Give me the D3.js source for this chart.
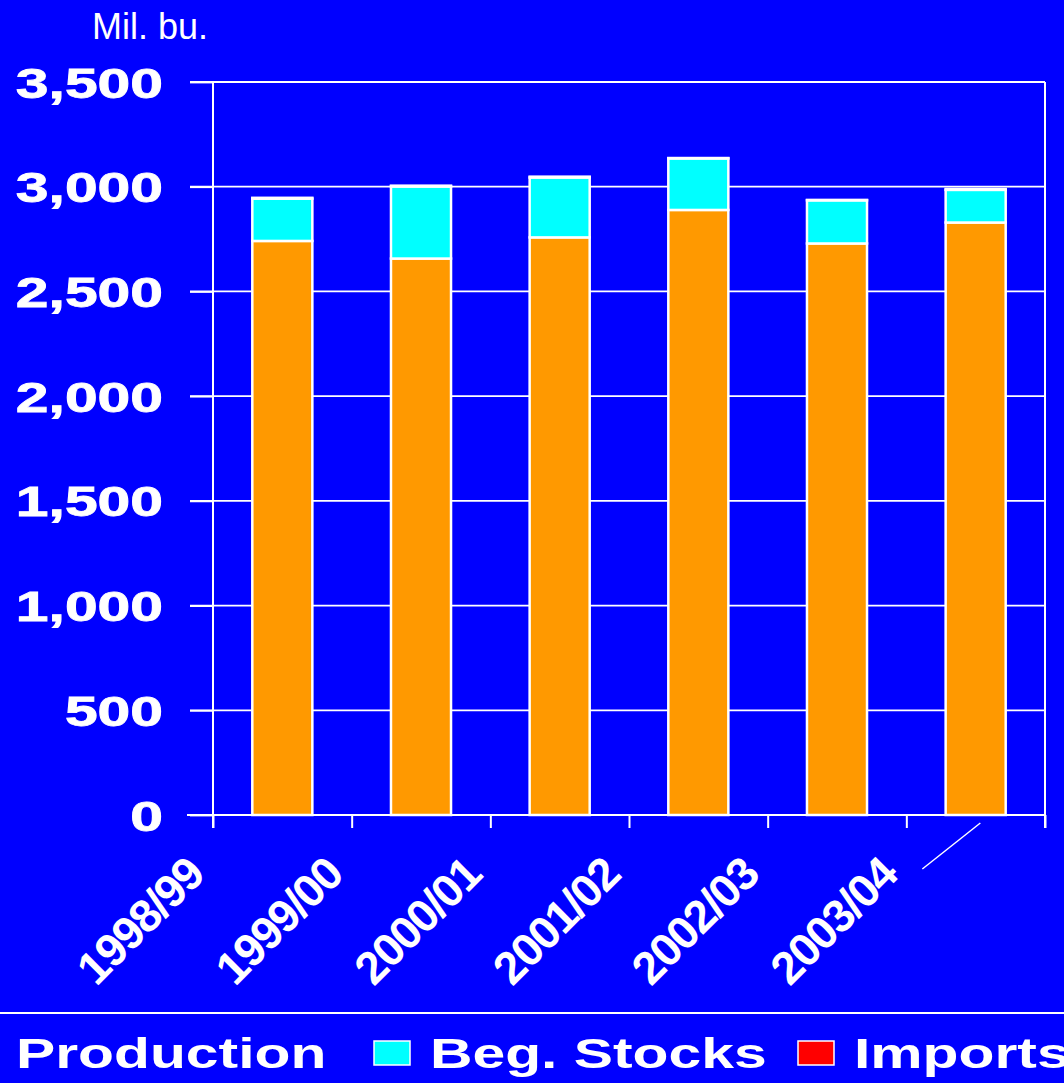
<!DOCTYPE html>
<html>
<head>
<meta charset="utf-8">
<script src="https://cdn.jsdelivr.net/npm/d3@7"></script>
<style>
  html, body { margin: 0; padding: 0; background: #0000ff; }
  svg { display: block; }
  text { fill: #fff; font-family: "Liberation Sans", Arial, sans-serif; }
</style>
</head>
<body>
<div id="chart"></div>
<script>
var categories = ["1998/99", "1999/00", "2000/01", "2001/02", "2002/03", "2003/04"];
var production = [2741, 2657, 2758, 2889, 2729, 2829];
var begStocks = [202, 344, 286, 246, 206, 156];
var imports = [4, 4, 4, 2, 2, 4];
var seriesNames = ["Production", "Beg. Stocks", "Imports"];
var seriesColors = ["#ff9900", "#00ffff", "#ff0000"];
var yTicks = [0, 500, 1000, 1500, 2000, 2500, 3000, 3500];

var W = 1064, H = 1083;
var plotLeft = 213, plotRight = 1045, plotTop = 82, plotBottom = 815;
var stretch = 1.4;

var rows = categories.map(function(c, i) {
  return {cat: c, "Production": production[i], "Beg. Stocks": begStocks[i], "Imports": imports[i]};
});

var svg = d3.select("#chart").append("svg")
  .attr("width", W)
  .attr("height", H);

svg.append("rect").attr("width", W).attr("height", H).attr("fill", "#0000ff");

var y = d3.scaleLinear().domain([0, 3500]).range([plotBottom, plotTop]);

// bars sit in bands, ticks at band boundaries
var x = d3.scaleBand().domain(categories).range([plotLeft, plotRight])
  .paddingInner(0.567).paddingOuter(0.2835);
var xEdge = d3.scaleLinear().domain([0, categories.length]).range([plotLeft, plotRight]);

// stretch wide bold text like the original
function widen(sel, k) {
  sel.each(function() {
    var len = this.getComputedTextLength();
    d3.select(this).attr("textLength", len * k).attr("lengthAdjust", "spacingAndGlyphs");
  });
}

// gridlines
svg.append("g")
  .selectAll("line")
  .data(yTicks)
  .join("line")
  .attr("x1", plotLeft - 23)
  .attr("x2", plotRight)
  .attr("y1", function(d) { return y(d); })
  .attr("y2", function(d) { return y(d); })
  .attr("stroke", "#fff")
  .attr("stroke-width", 1.8);

// y axis
var yAxis = svg.append("g")
  .attr("transform", "translate(" + plotLeft + ",0)")
  .call(d3.axisLeft(y).tickValues(yTicks).tickSize(23).tickPadding(27).tickFormat(d3.format(",")));
yAxis.select(".domain").remove();
yAxis.selectAll("line").attr("stroke", "#fff").attr("stroke-width", 1.8);
yAxis.selectAll("text")
  .attr("font-size", 42)
  .attr("font-weight", "bold")
  .attr("font-family", "Liberation Sans, Arial, sans-serif")
  .attr("fill", "#fff")
  .attr("stroke", "#fff")
  .attr("stroke-width", 0.8)
  .attr("dy", "0.36em")
  .call(widen, stretch);

// stacked bars
var stack = d3.stack().keys(seriesNames)(rows);
svg.append("g")
  .selectAll("g")
  .data(stack)
  .join("g")
  .attr("fill", function(d, i) { return seriesColors[i]; })
  .selectAll("rect")
  .data(function(d) { return d; })
  .join("rect")
  .attr("x", function(d) { return x(d.data.cat); })
  .attr("width", x.bandwidth())
  .attr("y", function(d) { return y(d[1]); })
  .attr("height", function(d) { return y(d[0]) - y(d[1]); })
  .attr("stroke", "#fff")
  .attr("stroke-width", 2.5);

// frame lines: left axis, right edge
svg.append("line")
  .attr("x1", plotLeft).attr("x2", plotLeft).attr("y1", plotTop).attr("y2", plotBottom + 13)
  .attr("stroke", "#fff").attr("stroke-width", 2);
svg.append("line")
  .attr("x1", plotRight).attr("x2", plotRight).attr("y1", plotTop).attr("y2", plotBottom + 13)
  .attr("stroke", "#fff").attr("stroke-width", 2);

// x axis with ticks on category edges
var xAxis = svg.append("g")
  .attr("transform", "translate(0," + plotBottom + ")")
  .call(d3.axisBottom(xEdge).tickValues(d3.range(categories.length + 1)).tickSize(13)
    .tickFormat(function(i) { return i < categories.length ? categories[i] : ""; }));
xAxis.select(".domain").attr("d", "M" + (plotLeft - 26) + ",0H" + plotRight).attr("stroke", "#fff").attr("stroke-width", 2);
xAxis.selectAll("line").attr("stroke", "#fff").attr("stroke-width", 2);
xAxis.selectAll("text")
  .attr("font-size", 46)
  .attr("font-weight", "bold")
  .attr("font-family", "Liberation Sans, Arial, sans-serif")
  .attr("fill", "#fff")
  .attr("text-anchor", "end")
  .attr("y", 0)
  .attr("dy", 0)
  .attr("letter-spacing", -1.5)
  .attr("transform", "translate(-7,62) rotate(-45)");

// stray slash next to the last label
var lastEdge = xEdge(categories.length - 1);
svg.append("line")
  .attr("x1", lastEdge + 16).attr("y1", plotBottom + 54)
  .attr("x2", lastEdge + 74).attr("y2", plotBottom + 8)
  .attr("stroke", "#fff").attr("stroke-width", 1.5);

// unit label
svg.append("text")
  .attr("x", 92)
  .attr("y", 39)
  .attr("font-size", 36)
  .text("Mil. bu.");

// separator above legend
svg.append("line")
  .attr("x1", 0).attr("x2", W).attr("y1", 1013).attr("y2", 1013)
  .attr("stroke", "#fff").attr("stroke-width", 2);

// legend
var legendX = [-40, 374, 798];
var legend = svg.append("g")
  .selectAll("g")
  .data(seriesNames)
  .join("g")
  .attr("transform", function(d, i) { return "translate(" + legendX[i] + ",1041)"; });
legend.append("rect")
  .attr("width", 36).attr("height", 24)
  .attr("fill", function(d, i) { return seriesColors[i]; })
  .attr("stroke", "#fff").attr("stroke-width", 1.5);
legend.append("text")
  .attr("x", 56)
  .attr("y", 27)
  .attr("font-size", 42)
  .attr("font-weight", "bold")
  .text(function(d) { return d; })
  .call(widen, stretch);
</script>
</body>
</html>
